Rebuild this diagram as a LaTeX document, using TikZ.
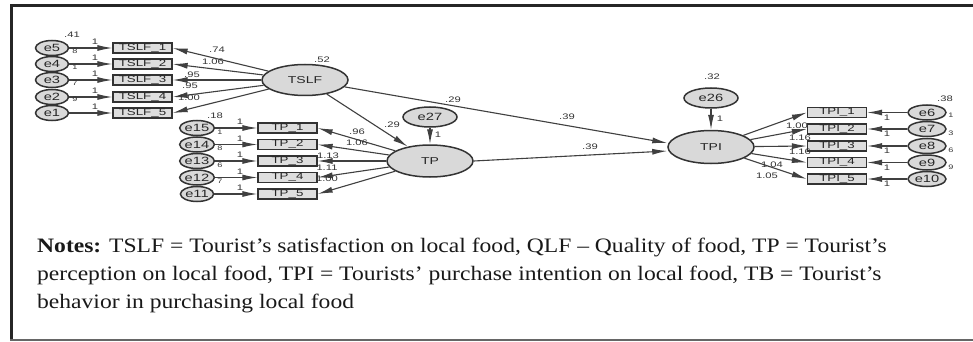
\documentclass[tikz,border=0pt]{standalone}
\usepackage{fontspec}
\usepackage{graphicx}
\setmainfont{Liberation Serif}
\newfontfamily\arialfont{Liberation Sans}
\usetikzlibrary{shapes.geometric,arrows.meta}
% horizontally widened text
\newcommand\wide[1]{\scalebox{1.4}[1]{#1}}
\newcommand\noteline[1]{\scalebox{1.15}[1]{#1}}
\begin{document}
\begin{tikzpicture}[x=1pt,y=-1pt,
  latent/.style={ellipse,draw=black!80,fill=black!15,line width=1.5pt,
    minimum width=86pt,minimum height=31pt,inner sep=0pt,text=black!85,
    font=\arialfont\fontsize{10}{10}\selectfont},
  errvar/.style={ellipse,draw=black!80,fill=black!15,line width=1.5pt,
    minimum width=33pt,minimum height=15pt,inner sep=0pt,text=black!85,
    font=\arialfont\fontsize{10.5}{10.5}\selectfont},
  bigerr/.style={errvar,minimum width=54pt,minimum height=20pt},
  obsbox/.style={rectangle,draw=black!80,fill=black!13,line width=1.3pt,
    minimum width=59pt,minimum height=10pt,inner sep=0pt,text=black!85,
    font=\arialfont\fontsize{9.5}{9.5}\selectfont},
  path/.style={draw=black!75,line width=1.1pt,
    -{Latex[length=15pt,width=6pt]}},
  est/.style={inner sep=0pt,text=black!80,
    font=\arialfont\fontsize{8}{8}\selectfont},
  tiny/.style={inner sep=0pt,text=black!80,
    font=\arialfont\fontsize{6.5}{6.5}\selectfont},
  note/.style={anchor=base west,inner sep=0pt,text=black!90,
    font=\fontsize{20.5}{20.5}\selectfont}]
\useasboundingbox (0,0) rectangle (973,342);
\fill[white] (0,0) rectangle (973,342);

% frame
\draw[black!85,line width=3pt] (10,6) -- (973,6);
\draw[black!85,line width=3pt] (11,5) -- (11,340);
\draw[black!60,line width=1.5pt] (10,340) -- (973,340);

% ---- TSLF block
\node[latent] (tslf) at (305,80) {\wide{TSLF}};
\foreach \i/\y/\e in {1/48/5,2/64/4,3/80/3,4/97/2,5/113/1}{
  \node[obsbox] (s\i) at (142.5,\y) {\wide{TSLF\_\i}};
  \node[errvar] (e\e) at (52,\y) {\wide{e\e}};
  \draw[path] (e\e) -- (s\i.west);
  \node[est] at (95,\y-6) {\wide{1}};
  \draw[path] (tslf) -- (s\i.east);
}
\node[est] at (72,35) {\wide{.41}};
\node[tiny] at (75,51) {\wide{8}};
\node[tiny] at (75,67) {\wide{1}};
\node[tiny] at (75,83) {\wide{7}};
\node[tiny] at (75,99) {\wide{9}};
\node[est] at (217,50) {\wide{.74}};
\node[est] at (213,62) {\wide{1.06}};
\node[est] at (192,75) {\wide{.95}};
\node[est] at (190,86) {\wide{.95}};
\node[est] at (189,98) {\wide{1.00}};
\node[est] at (322,60) {\wide{.52}};

% ---- TP block
\node[latent,minimum height=32pt] (tp) at (430,161) {\wide{TP}};
\node[bigerr] (e27) at (430,117) {\wide{e27}};
\draw[path] (e27) -- (tp);
\node[est] at (438,135) {\wide{1}};
\foreach \i/\y/\e in {1/128/15,2/144.5/14,3/161/13,4/177.5/12,5/194/11}{
  \node[obsbox] (t\i) at (287.5,\y) {\wide{TP\_\i}};
  \node[errvar,minimum width=32pt] (e\e) at (197,\y) {\wide{e\e}};
  \draw[path] (e\e) -- (t\i.west);
  \node[est] at (240,\y-6) {\wide{1}};
  \draw[path] (tp) -- (t\i.east);
}
\node[est] at (215,116) {\wide{.18}};
\node[tiny] at (220,132) {\wide{1}};
\node[tiny] at (220,148) {\wide{8}};
\node[tiny] at (220,165) {\wide{6}};
\node[tiny] at (220,181) {\wide{7}};
\node[est] at (357,132) {\wide{.96}};
\node[est] at (357,143) {\wide{1.06}};
\node[est] at (328,156) {\wide{1.13}};
\node[est] at (327,168) {\wide{1.11}};
\node[est] at (327,179) {\wide{1.00}};

% ---- TPI block
\node[latent,minimum height=33pt] (tpi) at (711,147) {\wide{TPI}};
\node[bigerr] (e26) at (711,98) {\wide{e26}};
\draw[path] (e26) -- (tpi);
\node[est] at (720,119) {\wide{1}};
\node[est] at (712,77) {\wide{.32}};
\foreach \i/\y/\e in {1/112.5/6,2/129/7,3/146/8,4/162.5/9,5/179/10}{
  \node[obsbox] (p\i) at (837,\y) {\wide{TPI\_\i}};
  \node[errvar,minimum width=38pt] (e\e) at (927,\y) {\wide{e\e}};
  \draw[path] (e\e) -- (p\i.east);
  \node[est] at (887,\y+5) {\wide{1}};
  \draw[path] (tpi) -- (p\i.west);
}
\node[est] at (945,99) {\wide{.38}};
\node[tiny] at (951,115) {\wide{1}};
\node[tiny] at (951,133) {\wide{3}};
\node[tiny] at (951,150) {\wide{6}};
\node[tiny] at (951,167) {\wide{9}};
\node[est] at (797,126) {\wide{1.00}};
\node[est] at (800,138) {\wide{1.16}};
\node[est] at (800,152) {\wide{1.16}};
\node[est] at (772,165) {\wide{1.04}};
\node[est] at (767,176) {\wide{1.05}};

% ---- structural paths
\draw[path] (tslf) -- ([yshift=4pt]tpi.west);
\draw[path] (tslf) -- (tp);
\draw[path] (tp.east) -- ([yshift=-4pt]tpi.west);
\node[est] at (392,125) {\wide{.29}};
\node[est] at (453,100) {\wide{.29}};
\node[est] at (567,117) {\wide{.39}};
\node[est] at (590,147) {\wide{.39}};

% ---- notes
\node[note] (n1) at (37,252) {\noteline{\textbf{Notes:} TSLF = Tourist’s satisfaction on local food, QLF – Quality of food, TP = Tourist’s}};
\node[note] (n2) at (37,280) {\noteline{perception on local food, TPI = Tourists’ purchase intention on local food, TB = Tourist’s}};
\node[note] (n3) at (37,308) {\noteline{behavior in purchasing local food}};
\end{tikzpicture}
\end{document}
